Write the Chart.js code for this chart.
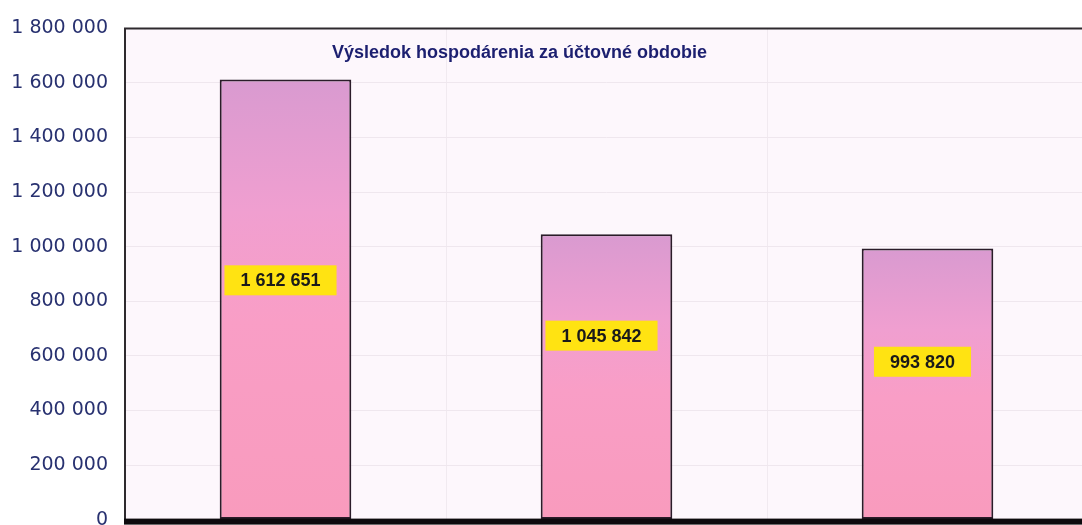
<!DOCTYPE html>
<html>
<head>
<meta charset="utf-8">
<script src="https://cdn.jsdelivr.net/npm/chart.js@4/dist/chart.umd.min.js"></script>
<style>
  html, body { margin: 0; padding: 0; background: #ffffff; overflow: hidden; }
  canvas { display: block; }
</style>
</head>
<body>
<canvas id="chart" width="1088" height="548"></canvas>
<script>
// data
const periods = ["Obdobie 1", "Obdobie 2", "Obdobie 3"];
const results = [1612651, 1045842, 993820];
const yTicks = [0, 200000, 400000, 600000, 800000, 1000000, 1200000, 1400000, 1600000, 1800000];
const chartTitle = "Výsledok hospodárenia za účtovné obdobie";

const fmt = (v) => String(v).replace(/\B(?=(\d{3})+(?!\d))/g, " ");

// plot background + frame + title + value boxes
const decor = {
  id: "decor",
  beforeDraw(chart) {
    const { ctx, chartArea: a } = chart;
    ctx.save();
    ctx.fillStyle = "#fdf7fc";
    ctx.fillRect(a.left, a.top, a.right - a.left, a.bottom - a.top);
    ctx.restore();
  },
  afterDatasetsDraw(chart) {
    const { ctx, chartArea: a } = chart;
    ctx.save();
    // frame
    ctx.strokeStyle = "#2e2a2e";
    ctx.lineWidth = 2;
    ctx.beginPath();
    ctx.moveTo(a.left, a.bottom);
    ctx.lineTo(a.left, a.top);
    ctx.lineTo(a.right, a.top);
    ctx.stroke();
    ctx.fillStyle = "#0d0a0d";
    ctx.fillRect(a.left - 1, a.bottom - 1, a.right - a.left + 1, 6);

    // title
    ctx.font = "bold 18px 'Liberation Sans', Arial, sans-serif";
    ctx.fillStyle = "#1c1f70";
    ctx.textAlign = "left";
    ctx.textBaseline = "middle";
    ctx.fillText(chartTitle, a.left + 207, a.top + 25);

    // value labels
    const offsets = [-19, -41, -22];
    const meta = chart.getDatasetMeta(0);
    ctx.font = "bold 18px 'Liberation Sans', Arial, sans-serif";
    ctx.textAlign = "center";
    meta.data.forEach((bar, i) => {
      const txt = fmt(results[i]);
      const w = ctx.measureText(txt).width + 32;
      const h = 30;
      const cx = bar.x - 5;
      const cy = (bar.y + bar.base) / 2 + offsets[i];
      ctx.fillStyle = "#ffe312";
      ctx.fillRect(cx - w / 2, cy - h / 2, w, h);
      ctx.fillStyle = "#1a1a1a";
      ctx.fillText(txt, cx, cy + 1);
    });
    ctx.restore();
  }
};

function barFill(context) {
  const chart = context.chart;
  const y = chart.scales.y;
  if (!chart.chartArea || !y) return "#f39ac6";
  const top = y.getPixelForValue(context.raw);
  const bottom = y.getPixelForValue(0);
  const g = chart.ctx.createLinearGradient(0, top, 0, bottom);
  g.addColorStop(0, "#d99ad0");
  g.addColorStop(0.3, "#f09fd0");
  g.addColorStop(0.55, "#f99ec6");
  g.addColorStop(1, "#f99bbd");
  return g;
}

new Chart(document.getElementById("chart"), {
  type: "bar",
  data: {
    labels: periods,
    datasets: [{
      data: results,
      backgroundColor: barFill,
      borderColor: "#2b1c29",
      borderWidth: 2,
      borderSkipped: false,
      categoryPercentage: 1,
      barPercentage: 0.41
    }]
  },
  options: {
    responsive: false,
    animation: false,
    layout: { padding: { top: 13, bottom: 6, left: 0, right: 0 } },
    plugins: {
      legend: { display: false },
      tooltip: { enabled: false }
    },
    scales: {
      x: {
        grid: { color: "#f1eaf0", lineWidth: 1, drawTicks: false, offset: true },
        border: { display: false },
        ticks: { display: false },
        afterFit: (s) => { s.height = 0; }
      },
      y: {
        min: 0,
        max: 1800000,
        afterBuildTicks: (s) => { s.ticks = yTicks.map((v) => ({ value: v })); },
        afterFit: (s) => { s.width = 125; },
        grid: { color: "#efe7ee", lineWidth: 1, drawTicks: false },
        border: { display: false },
        ticks: {
          padding: 17,
          color: "#283170",
          font: { family: "'DejaVu Sans', sans-serif", size: 19 },
          callback: (v) => fmt(v)
        }
      }
    }
  },
  plugins: [decor]
});
</script>
</body>
</html>
